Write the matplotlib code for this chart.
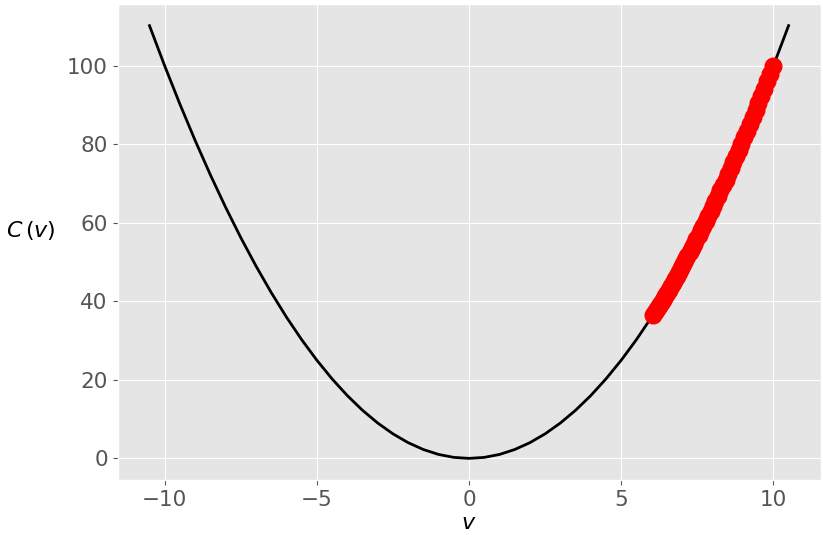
import matplotlib
matplotlib.use("Agg")
import matplotlib.pyplot as plt

# curva de costo C(v)
v_curva = [-10.5, -10.0, -9.5, -9.0, -8.5, -8.0, -7.5, -7.0, -6.5, -6.0, -5.5,
           -5.0, -4.5, -4.0, -3.5, -3.0, -2.5, -2.0, -1.5, -1.0, -0.5, 0.0,
           0.5, 1.0, 1.5, 2.0, 2.5, 3.0, 3.5, 4.0, 4.5, 5.0, 5.5, 6.0, 6.5,
           7.0, 7.5, 8.0, 8.5, 9.0, 9.5, 10.0, 10.5]
c_curva = [110.25, 100.0, 90.25, 81.0, 72.25, 64.0, 56.25, 49.0, 42.25, 36.0, 30.25,
           25.0, 20.25, 16.0, 12.25, 9.0, 6.25, 4.0, 2.25, 1.0, 0.25, 0.0,
           0.25, 1.0, 2.25, 4.0, 6.25, 9.0, 12.25, 16.0, 20.25, 25.0, 30.25, 36.0, 42.25,
           49.0, 56.25, 64.0, 72.25, 81.0, 90.25, 100.0, 110.25]

# pasos del descenso (puntos rojos)
v_pasos = [10.00, 9.900, 9.801, 9.703, 9.606, 9.510, 9.415, 9.321, 9.227, 9.135,
           9.044, 8.953, 8.864, 8.775, 8.687, 8.601, 8.515, 8.429, 8.345, 8.262,
           8.179, 8.097, 8.016, 7.936, 7.857, 7.778, 7.700, 7.623, 7.547, 7.472,
           7.397, 7.323, 7.250, 7.177, 7.105, 7.034, 6.964, 6.894, 6.826, 6.757,
           6.690, 6.623, 6.557, 6.491, 6.426, 6.362, 6.298, 6.235, 6.173, 6.111,
           6.050]
c_pasos = [100.0, 98.01, 96.06, 94.15, 92.27, 90.44, 88.64, 86.88, 85.14, 83.45,
           81.79, 80.16, 78.57, 77.00, 75.46, 73.98, 72.51, 71.05, 69.64, 68.26,
           66.90, 65.56, 64.26, 62.98, 61.73, 60.50, 59.29, 58.11, 56.96, 55.83,
           54.72, 53.63, 52.56, 51.51, 50.48, 49.48, 48.50, 47.53, 46.59, 45.66,
           44.76, 43.86, 42.99, 42.13, 41.29, 40.47, 39.66, 38.88, 38.11, 37.34,
           36.60]

plt.style.use("ggplot")

fig = plt.figure(figsize=(8.23, 5.35), dpi=100)
ax = fig.add_axes([0.1428, 0.1028, 0.8542, 0.8897])

ax.plot(v_curva, c_curva, color="black", linewidth=2)
ax.plot(v_pasos, c_pasos, "o", color="red", markersize=12)

ax.set_xlabel("$v$", fontsize=16, color="black", labelpad=2)
ax.set_ylabel(r"$C\,(v)$", fontsize=16, color="black", rotation=0, labelpad=26)
ax.tick_params(labelsize=15.5)

fig.savefig("out.png", dpi=100)
